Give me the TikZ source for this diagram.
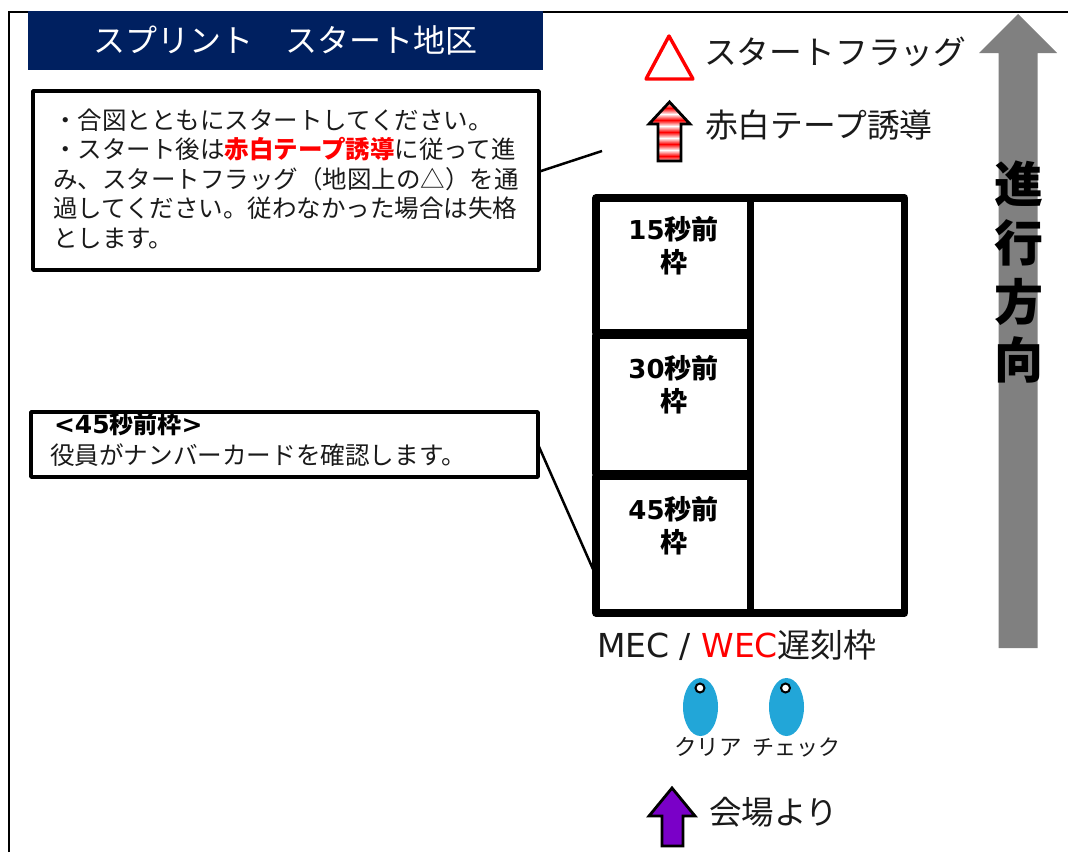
\documentclass[tikz,border=0pt]{standalone}
\usepackage{fontspec}
\setmainfont{Noto Sans CJK JP}
\newfontfamily\latinf{DejaVu Sans}
\usetikzlibrary{calc}
\definecolor{navy}{HTML}{002060}
\definecolor{signred}{HTML}{FF0000}
\definecolor{tagblue}{HTML}{22A6D8}
\definecolor{violet}{HTML}{7A00C8}
\definecolor{inkc}{HTML}{1A1A1A}
\newcommand{\fsz}[1]{\fontsize{#1}{#1}\selectfont}
\tikzset{
  x=1pt,y=-1pt,
  every node/.style={inner sep=0pt,outer sep=0pt,text=inkc},
  lab/.style={anchor=base west},
  legend/.style={lab,font=\fsz{32.8}},
  notebox/.style={draw=black,line width=3.5pt,fill=white,line join=round,anchor=north west,inner xsep=20pt,align=left},
  cell/.style={draw=black,line width=7.5pt,line join=round,fill=white},
  celltext/.style={anchor=base,font=\fsz{27}\bfseries,text=black},
  leader/.style={draw=black,line width=2.5pt},
  dirtext/.style={anchor=base,font=\fsz{49}\bfseries,text=black},
}
\begin{document}
\begin{tikzpicture}
\useasboundingbox (0,0) rectangle (1068,852);
% frame
\draw[line width=2pt] (9,852) -- (9,12) -- (1068,12);
% title
\node[fill=navy,minimum width=515pt,minimum height=59pt,text=white,font=\fsz{32}] (title) at (285.5,40.5) {スプリント　スタート地区};
% note 1
\node[notebox,text width=466pt,minimum height=179pt,font=\fontsize{24.5}{29.5}\selectfont] (note1) at (33,91) {・合図とともにスタートしてください。\\
・スタート後は{\bfseries\color{signred}赤白テープ誘導}に従って進\\
み、スタートフラッグ（地図上の△）を通\\
過してください。従わなかった場合は失格\\
とします。\rule[-5pt]{0pt}{5pt}};
% note 2
\node[draw=black,line width=3.5pt,fill=white,minimum width=507pt,minimum height=65pt,line join=round] (note2) at (284.5,444.5) {};
\node[lab,font=\fsz{24}\bfseries,text=black] (note2head) at (54,433) {{\latinf\fsz{25}<45}秒前枠{\latinf\fsz{25}>}};
\node[lab,font=\fsz{24.6}] (note2body) at (50,464) {役員がナンバーカードを確認します。};
% grid
\node[cell,minimum width=154.5pt,minimum height=134.5pt] (c15) at (673.25,265.25) {};
\node[cell,minimum width=154.5pt,minimum height=138pt] (c30) at (673.25,404.5) {};
\node[cell,minimum width=154.5pt,minimum height=136.5pt] (c45) at (673.25,544.75) {};
\node[cell,minimum width=154pt,minimum height=415pt] (late) at (827.5,405.5) {};
\node[celltext] (t15a) at (673.5,239) {{\latinf\fsz{26}15}秒前};
\node[celltext] (t15b) at (673.5,272) {枠};
\node[celltext] (t30a) at (673.5,378) {{\latinf\fsz{26}30}秒前};
\node[celltext] (t30b) at (673.5,411) {枠};
\node[celltext] (t45a) at (673.5,519) {{\latinf\fsz{26}45}秒前};
\node[celltext] (t45b) at (673.5,552) {枠};
% leaders
\coordinate (flagpt) at (602,151);
\draw[leader] (note1.2) -- (flagpt);
\draw[leader] (note2.-0.5) -- (c45.202);
% late label
\node[lab,font=\fsz{33}] (latelab) at (597,657) {{\latinf\fsz{33}MEC / \textcolor{signred}{WEC}}遅刻枠};
% legend
\draw[signred,line width=3.4pt,line join=round] (669,36) -- (693,79) -- (646,79) -- cycle;
\node[legend] (flaglab) at (704,64) {スタートフラッグ};
\begin{scope}
\clip (669.5,102) -- (690,124) -- (681,124) -- (681,161) -- (658,161) -- (658,124) -- (649,124) -- cycle;
\foreach \i in {0,...,5} {
  \shade[top color=white,bottom color=signred] (640,102+\i*12) rectangle (700,108.1+\i*12);
  \shade[top color=signred,bottom color=white] (640,108+\i*12) rectangle (700,114.1+\i*12);
}
\end{scope}
\draw[black,line width=2.8pt,line join=miter] (669.5,102) -- (690,124) -- (681,124) -- (681,161) -- (658,161) -- (658,124) -- (649,124) -- cycle;
\node[legend] (tapelab) at (705,137) {赤白テープ誘導};
% gray direction arrow
\fill[gray] (1018,14) -- (1057,53) -- (1037.5,53) -- (1037.5,648) -- (998.5,648) -- (998.5,53) -- (979,53) -- cycle;
\node[dirtext] (d1) at (1019,202) {進};
\node[dirtext] (d2) at (1019,261) {行};
\node[dirtext] (d3) at (1019,320) {方};
\node[dirtext] (d4) at (1019,378) {向};
% tags
\fill[tagblue] (700.5,707) ellipse [x radius=17.5,y radius=29];
\fill[tagblue] (786.5,707) ellipse [x radius=17.5,y radius=29];
\draw[black,fill=white,line width=2pt] (700,688) circle [radius=4.5];
\draw[black,fill=white,line width=2pt] (785.5,688) circle [radius=4.5];
\node[lab,font=\fsz{22.5}] (clear) at (674,755) {クリア};
\node[lab,font=\fsz{22}] (check) at (752,755) {チェック};
% entry arrow
\draw[black,fill=violet,line width=2.8pt,line join=miter] (672,788) -- (695,816) -- (683,816) -- (683,846) -- (662,846) -- (662,816) -- (649,816) -- cycle;
\node[legend,font=\fsz{32.5}] (entry) at (709,824) {会場より};
\end{tikzpicture}
\end{document}
